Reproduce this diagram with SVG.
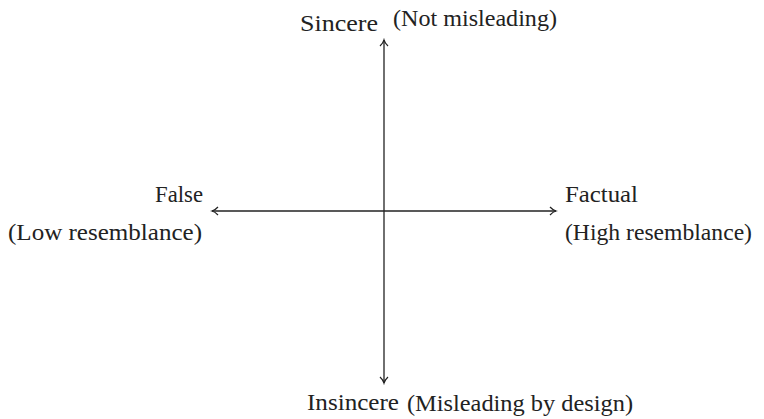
<svg xmlns="http://www.w3.org/2000/svg" width="764" height="419" viewBox="0 0 764 419">
<defs>
<style>
.lbl{font-family:"Liberation Serif","Times New Roman",serif;font-size:23px;fill:#222}
.ax{stroke:#222;stroke-width:1.3;fill:none}
</style>
<marker id="ah" viewBox="-8 -5 10 10" markerWidth="10" markerHeight="10" refX="0" refY="0" orient="auto" markerUnits="userSpaceOnUse">
<path d="M-6,-4 Q-3,-0.8 0,0 Q-3,0.8 -6,4" stroke="#222" stroke-width="1.2" fill="none"/>
</marker>
</defs>
<rect width="764" height="419" fill="#fff"/>
<g id="connectors">
<line class="ax" x1="384" y1="211" x2="384" y2="40" marker-end="url(#ah)"/>
<line class="ax" x1="384" y1="211" x2="384" y2="383" marker-end="url(#ah)"/>
<line class="ax" x1="384" y1="211" x2="212" y2="211" marker-end="url(#ah)"/>
<line class="ax" x1="384" y1="211" x2="556" y2="211" marker-end="url(#ah)"/>
</g>
<g id="top">
<text class="lbl" x="300" y="31" textLength="78" lengthAdjust="spacingAndGlyphs">Sincere</text>
<text class="lbl" x="393" y="26" textLength="164" lengthAdjust="spacingAndGlyphs">(Not misleading)</text>
</g>
<g id="left">
<text class="lbl" x="155" y="202" textLength="48" lengthAdjust="spacingAndGlyphs">False</text>
<text class="lbl" x="8" y="240" textLength="194" lengthAdjust="spacingAndGlyphs">(Low resemblance)</text>
</g>
<g id="right">
<text class="lbl" x="565" y="202" textLength="73" lengthAdjust="spacingAndGlyphs">Factual</text>
<text class="lbl" x="565" y="240" textLength="187" lengthAdjust="spacingAndGlyphs">(High resemblance)</text>
</g>
<g id="bottom">
<text class="lbl" x="307" y="410" textLength="92" lengthAdjust="spacingAndGlyphs">Insincere</text>
<text class="lbl" x="407" y="411" textLength="226" lengthAdjust="spacingAndGlyphs">(Misleading by design)</text>
</g>
</svg>
